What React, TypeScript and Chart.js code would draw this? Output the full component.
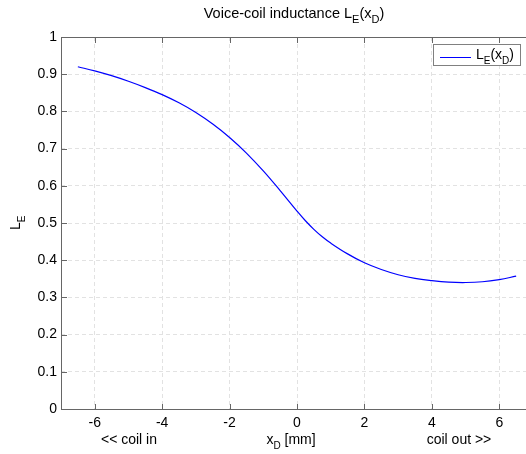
import React, { useEffect, useRef } from "react";
import { Chart, registerables } from "chart.js";

Chart.register(...registerables);

const xValues = [-6.5, -6, -5.5, -5, -4.5, -4, -3.5, -3, -2.5, -2, -1.5, -1, -0.5, 0, 0.25, 0.5, 0.75, 1, 1.5, 2, 2.5, 3, 3.5, 4, 4.5, 5, 5.5, 6, 6.5];
const leValues = [0.92, 0.909, 0.896, 0.881, 0.864, 0.845, 0.823, 0.797, 0.766, 0.73, 0.688, 0.64, 0.587, 0.532, 0.506, 0.483, 0.463, 0.446, 0.417, 0.393, 0.375, 0.361, 0.351, 0.345, 0.341, 0.34, 0.342, 0.348, 0.357];
const xTicks = [-6, -4, -2, 0, 2, 4, 6];
const yTicks = [0, 0.1, 0.2, 0.3, 0.4, 0.5, 0.6, 0.7, 0.8, 0.9, 1];

const FAMILY = '"Liberation Sans", Arial, sans-serif';
const AXIS = "#666666";

type Part = { t: string; sub?: boolean };

function measure(ctx: CanvasRenderingContext2D, parts: Part[], main: string, sub: string) {
  let w = 0;
  for (const p of parts) {
    ctx.font = p.sub ? sub : main;
    w += ctx.measureText(p.t).width;
  }
  return w;
}

function drawParts(ctx: CanvasRenderingContext2D, parts: Part[], x: number, y: number, main: string, sub: string, drop = 5) {
  let cx = x;
  ctx.textAlign = "left";
  ctx.textBaseline = "alphabetic";
  for (const p of parts) {
    ctx.font = p.sub ? sub : main;
    ctx.fillText(p.t, cx, p.sub ? y + drop : y);
    cx += ctx.measureText(p.t).width;
  }
}

const decorPlugin = {
  id: "decor",
  afterDraw(chart: any) {
    const ctx: CanvasRenderingContext2D = chart.ctx;
    const xs = chart.scales.x;
    const ys = chart.scales.y;
    const L = Math.round(xs.left);
    const R = Math.round(xs.right);
    const T = Math.round(ys.top);
    const B = Math.round(ys.bottom);
    ctx.save();
    ctx.fillStyle = AXIS;
    ctx.fillRect(L, T, R - L + 1, 1);
    ctx.fillRect(L, B, R - L + 1, 1);
    ctx.fillRect(L, T, 1, B - T + 1);
    ctx.fillRect(R, T, 1, B - T + 1);
    for (const v of xTicks) {
      const px = Math.round(xs.getPixelForValue(v));
      ctx.fillRect(px, B - 5, 1, 5);
      ctx.fillRect(px, T + 1, 1, 5);
    }
    for (const v of yTicks) {
      const py = Math.round(ys.getPixelForValue(v));
      ctx.fillRect(L + 1, py, 5, 1);
    }

    const MAIN = `14px ${FAMILY}`;
    const SUB = `10px ${FAMILY}`;
    ctx.fillStyle = "#000";
    const TMAIN = `14.5px ${FAMILY}`;
    const TSUB = `11px ${FAMILY}`;
    const title: Part[] = [{ t: "Voice-coil inductance L" }, { t: "E", sub: true }, { t: "(x" }, { t: "D", sub: true }, { t: ")" }];
    const tw = measure(ctx, title, TMAIN, TSUB);
    drawParts(ctx, title, 294 - tw / 2, 18, TMAIN, TSUB);

    const xl: Part[] = [{ t: "x" }, { t: "D", sub: true }, { t: " [mm]" }];
    const xw = measure(ctx, xl, MAIN, SUB);
    drawParts(ctx, xl, 291 - xw / 2, 444, MAIN, SUB);
    ctx.font = MAIN;
    ctx.textAlign = "center";
    ctx.fillText("<< coil in", 129, 444);
    ctx.fillText("coil out >>", 459, 444);

    ctx.save();
    ctx.translate(20, 230);
    ctx.rotate(-Math.PI / 2);
    drawParts(ctx, [{ t: "L" }, { t: "E", sub: true }], 0, 0, MAIN, SUB);
    ctx.restore();

    ctx.fillStyle = "#fff";
    ctx.fillRect(434, 45, 86, 20);
    ctx.fillStyle = "#808080";
    ctx.fillRect(433, 44, 88, 1);
    ctx.fillRect(433, 65, 88, 1);
    ctx.fillRect(433, 44, 1, 22);
    ctx.fillRect(520, 44, 1, 22);
    ctx.fillStyle = "#0000ff";
    ctx.fillRect(440, 57, 31, 1);
    ctx.fillStyle = "#000";
    drawParts(ctx, [{ t: "L" }, { t: "E", sub: true }, { t: "(x" }, { t: "D", sub: true }, { t: ")" }], 476, 59, MAIN, SUB);
    ctx.restore();
  },
};

export default function App() {
  const ref = useRef<HTMLCanvasElement>(null);
  useEffect(() => {
    document.body.style.margin = "0";
    document.body.style.overflow = "hidden";
    document.documentElement.style.overflow = "hidden";
    const chart = new Chart(ref.current as HTMLCanvasElement, {
      type: "line",
      data: {
        datasets: [
          {
            label: "LE(xD)",
            data: xValues.map((x, i) => ({ x, y: leValues[i] })),
            borderColor: "#0000ff",
            borderWidth: 1.2,
            pointRadius: 0,
            tension: 0.4,
            fill: false,
          },
        ],
      },
      options: {
        responsive: false,
        animation: false,
        devicePixelRatio: 1,
        layout: { padding: { left: 0, top: 37, right: 7, bottom: 0 } },
        plugins: { legend: { display: false }, title: { display: false }, tooltip: { enabled: false } },
        scales: {
          x: {
            type: "linear",
            min: -7,
            max: 7,
            afterBuildTicks: (s: any) => {
              s.ticks = xTicks.map((v) => ({ value: v }));
            },
            afterFit: (s: any) => {
              s.height = 45;
            },
            grid: { color: "#e2e2e2", drawTicks: false },
            border: { display: false, dash: [4, 3] },
            ticks: {
              color: "#000",
              font: { family: FAMILY, size: 14 },
              padding: 6,
              maxRotation: 0,
              callback: (v: any) => String(v),
            },
          },
          y: {
            type: "linear",
            min: 0,
            max: 1,
            afterBuildTicks: (s: any) => {
              s.ticks = yTicks.map((v) => ({ value: v }));
            },
            afterFit: (s: any) => {
              s.width = 61;
            },
            grid: { color: "#e2e2e2", drawTicks: false },
            border: { display: false, dash: [4, 3] },
            ticks: {
              color: "#000",
              font: { family: FAMILY, size: 14 },
              padding: 4,
              callback: (v: any) => String(Math.round(v * 10) / 10),
            },
          },
        },
      },
      plugins: [decorPlugin],
    });
    return () => chart.destroy();
  }, []);
  return (
    <div style={{ position: "relative", width: 540, height: 454, background: "#fff" }}>
      <canvas ref={ref} width={540} height={454} style={{ display: "block" }} />
    </div>
  );
}
